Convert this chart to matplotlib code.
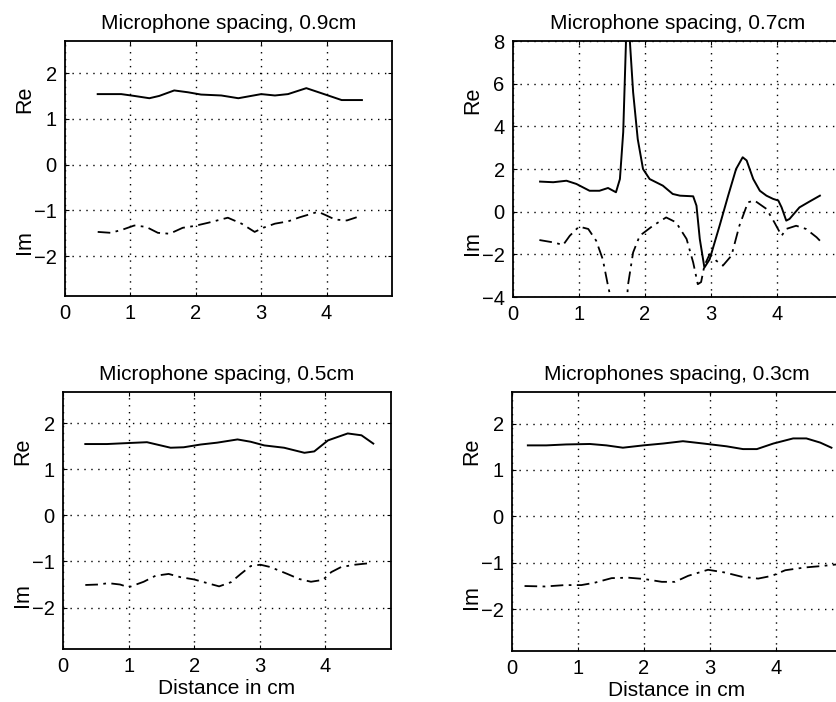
import matplotlib
matplotlib.use("Agg")
import matplotlib.pyplot as plt

plt.rcParams['font.family'] = ['Liberation Sans', 'DejaVu Sans']

# ---- data: Microphone spacing 0.9 cm ----
x09_re = [0.50, 0.86, 1.06, 1.29, 1.44, 1.67, 1.88, 2.08, 2.39, 2.65, 3.00, 3.21, 3.41, 3.69, 3.92, 4.23, 4.54]
y09_re = [1.54, 1.54, 1.50, 1.45, 1.50, 1.62, 1.58, 1.53, 1.51, 1.45, 1.54, 1.51, 1.54, 1.67, 1.56, 1.41, 1.41]
x09_im = [0.50, 0.70, 0.88, 1.06, 1.24, 1.42, 1.60, 1.80, 1.98, 2.19, 2.49, 2.70, 2.90, 3.03, 3.21, 3.41,
          3.59, 3.87, 3.98, 4.13, 4.31, 4.46]
y09_im = [-1.47, -1.49, -1.42, -1.33, -1.36, -1.49, -1.51, -1.38, -1.34, -1.27, -1.16, -1.29, -1.47, -1.38,
          -1.29, -1.24, -1.15, -1.03, -1.10, -1.20, -1.22, -1.15]

# ---- data: Microphone spacing 0.7 cm ----
x07_re = [0.41, 0.61, 0.81, 0.96, 1.16, 1.31, 1.44, 1.56, 1.62, 1.67, 1.72, 1.75, 1.82, 1.89, 1.97,
          2.07, 2.27, 2.42, 2.53, 2.73, 2.78, 2.83, 2.90, 2.98, 3.13, 3.26, 3.38, 3.48, 3.54, 3.64,
          3.74, 3.84, 3.94, 4.02, 4.07, 4.14, 4.19, 4.34, 4.49, 4.65]
y07_re = [1.41, 1.38, 1.45, 1.30, 0.98, 0.98, 1.11, 0.91, 1.53, 3.73, 8.8, 9.0, 5.6, 3.4, 2.0,
          1.53, 1.22, 0.83, 0.75, 0.72, 0.28, -1.28, -2.62, -2.23, -0.66, 0.75, 2.0, 2.55, 2.40, 1.53,
          0.98, 0.75, 0.60, 0.52, 0.20, -0.42, -0.34, 0.20, 0.47, 0.75]
x07_im = [0.40, 0.61, 0.76, 0.86, 1.00, 1.14, 1.26, 1.36, 1.44, 1.52, 1.62, 1.73, 1.74, 1.82, 1.92,
          2.12, 2.32, 2.47, 2.63, 2.73, 2.80, 2.85, 2.90, 2.98, 3.08, 3.18, 3.31, 3.43, 3.56, 3.66,
          3.84, 3.96, 4.07, 4.14, 4.29, 4.44, 4.60, 4.65]
y07_im = [-1.33, -1.44, -1.56, -1.13, -0.70, -0.81, -1.36, -2.23, -3.48, -4.6, -4.8, -4.1, -3.48, -1.91, -1.13,
          -0.66, -0.27, -0.50, -1.28, -2.38, -3.40, -3.30, -2.53, -1.99, -2.30, -2.53, -2.06, -0.66, 0.44, 0.52,
          0.13, -0.50, -1.13, -0.81, -0.66, -0.81, -1.20, -1.36]

# ---- data: Microphone spacing 0.5 cm ----
x05_re = [0.34, 0.67, 0.97, 1.28, 1.43, 1.64, 1.84, 2.10, 2.35, 2.66, 2.86, 3.07, 3.37, 3.68, 3.83, 4.04,
          4.34, 4.55, 4.73]
y05_re = [1.55, 1.55, 1.57, 1.59, 1.54, 1.47, 1.48, 1.54, 1.58, 1.65, 1.60, 1.52, 1.47, 1.36, 1.39, 1.63,
          1.78, 1.74, 1.56]
x05_im = [0.34, 0.54, 0.69, 0.87, 1.00, 1.23, 1.41, 1.61, 1.79, 2.00, 2.20, 2.38, 2.56, 2.71, 2.86, 3.01,
          3.16, 3.42, 3.60, 3.78, 3.96, 4.09, 4.24, 4.45, 4.65]
y05_im = [-1.51, -1.50, -1.47, -1.50, -1.56, -1.44, -1.31, -1.27, -1.34, -1.39, -1.47, -1.54, -1.45, -1.27,
          -1.10, -1.07, -1.12, -1.27, -1.38, -1.44, -1.40, -1.23, -1.12, -1.07, -1.04]

# ---- data: Microphone spacing 0.3 cm ----
x03_re = [0.24, 0.52, 0.82, 1.18, 1.43, 1.68, 1.99, 2.29, 2.59, 2.90, 3.25, 3.50, 3.71, 3.96, 4.26, 4.46,
          4.67, 4.84]
y03_re = [1.53, 1.53, 1.55, 1.56, 1.53, 1.48, 1.53, 1.57, 1.62, 1.57, 1.51, 1.45, 1.45, 1.57, 1.68, 1.68,
          1.59, 1.48]
x03_im = [0.19, 0.50, 0.80, 1.05, 1.25, 1.51, 1.76, 2.01, 2.27, 2.47, 2.67, 2.97, 3.23, 3.48, 3.73, 3.94,
          4.14, 4.44, 4.69, 4.95]
y03_im = [-1.50, -1.51, -1.48, -1.48, -1.43, -1.33, -1.32, -1.35, -1.41, -1.41, -1.28, -1.15, -1.21, -1.30,
          -1.34, -1.28, -1.16, -1.10, -1.07, -1.03]

titles = ["Microphone spacing, 0.9cm", "Microphone spacing, 0.7cm",
          "Microphone spacing, 0.5cm", "Microphones spacing, 0.3cm"]
xticks = [0, 1, 2, 3, 4]
yticks_small = [-2, -1, 0, 1, 2]
yticks_big = [-4, -2, 0, 2, 4, 6, 8]

W, H = 837, 702
fig = plt.figure(figsize=(W / 100, H / 100), dpi=100)

def pos(l, r, t, b):
    return [l / W, 1 - b / H, (r - l) / W, (b - t) / H]

panels = [
    (pos(65, 392, 41, 296), x09_re, y09_re, x09_im, y09_im, (-2.87, 2.7), yticks_small, False),
    (pos(513, 843, 41, 297), x07_re, y07_re, x07_im, y07_im, (-4, 8), yticks_big, False),
    (pos(63, 391, 392, 649), x05_re, y05_re, x05_im, y05_im, (-2.9, 2.68), yticks_small, True),
    (pos(512, 842, 392, 651), x03_re, y03_re, x03_im, y03_im, (-2.9, 2.68), yticks_small, True),
]

for i, (p, xr, yr, xi, yi, ylim, yt, bottom) in enumerate(panels):
    ax = fig.add_axes(p)
    ax.plot(xr, yr, color='black', lw=1.4, solid_joinstyle='round')
    ax.plot(xi, yi, color='black', lw=1.3, dashes=(7, 3, 1.5, 3))
    ax.set_xlim(0, 5)
    ax.set_ylim(*ylim)
    ax.set_xticks(xticks)
    ax.set_yticks(yt)
    ax.grid(True, color='black', linestyle=(0, (1, 4)), linewidth=1.0)
    ax.tick_params(direction='in', length=3, labelsize=14.5, width=0.8, pad=6,
                   top=True, right=True)
    for s in ax.spines.values():
        s.set_linewidth(1.3)
    ax.set_title(titles[i], fontsize=15, pad=9)
    ax.text(-0.123, 0.77, "Re", rotation=90, transform=ax.transAxes,
            ha='center', va='center', fontsize=15.5)
    ax.text(-0.123, 0.21, "Im", rotation=90, transform=ax.transAxes,
            ha='center', va='center', fontsize=15.5)
    if bottom:
        ax.set_xlabel("Distance in cm", fontsize=15, labelpad=2)

fig.savefig("out.png", dpi=100)
